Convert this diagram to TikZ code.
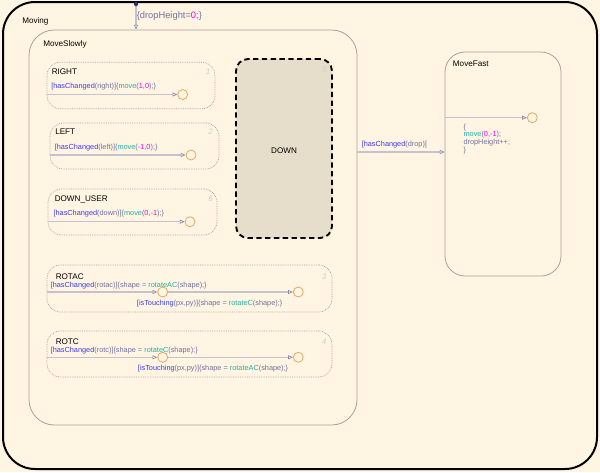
\documentclass[tikz,border=0pt]{standalone}
\usepackage{fontspec}
\setmainfont{Liberation Sans}
\usepackage{tikz}
\usetikzlibrary{arrows.meta}

\definecolor{bgcream}{RGB}{255,245,226}
\definecolor{downfill}{RGB}{230,221,203}
\definecolor{stategray}{RGB}{168,162,154}
\definecolor{dotgray}{RGB}{165,160,155}
\definecolor{transgray}{RGB}{198,193,206}
\definecolor{tipgray}{RGB}{140,136,170}
\definecolor{junorange}{RGB}{232,168,96}
\definecolor{evtblue}{RGB}{58,58,240}
\definecolor{argpurple}{RGB}{112,112,160}
\definecolor{fnteal}{RGB}{32,176,160}
\definecolor{nummag}{RGB}{240,0,240}
\definecolor{numgray}{RGB}{208,208,208}
\definecolor{initblue}{RGB}{48,48,122}

\newcommand{\evt}[1]{\textcolor{evtblue}{#1}}
\newcommand{\fn}[1]{\textcolor{fnteal}{#1}}
\newcommand{\nm}[1]{\textcolor{nummag}{#1}}

\tikzset{
  superstate/.style={draw=stategray, line width=0.6pt, inner sep=0pt},
  substate/.style={draw=dotgray, dash pattern={on 0.55pt off 0.75pt}, line width=0.55pt, inner sep=0pt, rounded corners=10pt},
  junction/.style={circle, draw=junorange, line width=0.6pt, minimum size=7.5pt, inner sep=0pt},
  trans/.style={draw=transgray, line width=0.9pt, -{Triangle[open, length=3.6pt, width=3pt, line width=0.5pt, color=tipgray]}},
  statename/.style={anchor=west, inner sep=0pt, font=\fontsize{6.1}{7}\selectfont},
  translabel/.style={anchor=west, inner sep=0pt, text=argpurple, font=\fontsize{5.5}{6}\selectfont},
  stateno/.style={inner sep=0pt, text=numgray, font=\itshape\fontsize{6}{7}\selectfont},
}

\begin{document}
\begin{tikzpicture}[x=0.75pt,y=0.75pt,yscale=-1,xscale=1]
\useasboundingbox (0,0) rectangle (600,472);
\fill[bgcream] (0,0) rectangle (600,472);

%Shape: outer state
\node[draw=black, line width=1.5pt, rounded corners=24pt, minimum width=445.5pt, minimum height=350.25pt, inner sep=0pt] (moving) at (300,235.5) {};
%Shape: super states
\node[superstate, rounded corners=19pt, minimum width=246pt, minimum height=296.25pt] (moveslowly) at (193,227.5) {};
\node[superstate, rounded corners=15pt, minimum width=87pt, minimum height=168pt] (movefast) at (503,164) {};

%Shape: sub states
\node[substate, minimum width=126pt, minimum height=35pt] (right) at (131,85.5) {};
\node[substate, minimum width=126.75pt, minimum height=34.5pt] (left) at (134.5,146) {};
\node[substate, minimum width=126.75pt, minimum height=34.5pt] (downuser) at (132.5,212) {};
\node[substate, minimum width=213.75pt, minimum height=35.25pt] (rotac) at (189.5,288.5) {};
\node[substate, minimum width=213.75pt, minimum height=34.5pt] (rotc) at (189.5,354) {};
\node[draw=black, fill=downfill, line width=1.4pt, dash pattern={on 4pt off 2.6pt}, rounded corners=9pt, minimum width=72pt, minimum height=134.25pt, inner sep=0pt] (down) at (284,148.5) {};

%Junctions
\node[junction] (jright) at (182.7,94.5) {};
\node[junction] (jleft) at (191,155) {};
\node[junction] (jdownuser) at (190,221.7) {};
\node[junction] (jrotac) at (162.7,292) {};
\node[junction] (jrotacend) at (298.3,292) {};
\node[junction] (jrotc) at (162.7,357.3) {};
\node[junction] (jrotcend) at (298.3,357.3) {};
\node[junction] (jfast) at (532.3,117.7) {};

%Default transition
\coordinate (init) at (136,4);
\draw[trans] (init) -- (init |- moveslowly.north);
\fill[initblue] (init) circle (1.6pt);

%Transitions
\draw[trans] (right.west |- jright) -- (jright);
\draw[trans] (left.west |- jleft) -- (jleft);
\draw[trans] (downuser.west |- jdownuser) -- (jdownuser);
\draw[trans] (rotac.west |- jrotac) -- (jrotac);
\draw[trans] (jrotac) -- (jrotacend);
\draw[trans] (rotc.west |- jrotc) -- (jrotc);
\draw[trans] (jrotc) -- (jrotcend);
\draw[trans] (movefast.west |- jfast) -- (jfast);
\coordinate (dropy) at (400,152);
\draw[trans] (moveslowly.east |- dropy) -- (movefast.west |- dropy);

% Text Node
\node[statename] (tmoving) at (22,21) {Moving};
\node[statename] (tmoveslowly) at (43,44) {MoveSlowly};
\node[statename] (tmovefast) at (452.7,63.5) {MoveFast};
\node[statename] (tright) at (51.5,72) {RIGHT};
\node[statename] (tleft) at (55,132) {LEFT};
\node[statename] (tdownuser) at (54.5,199) {DOWN\_USER};
\node[statename] (trotac) at (55.5,276.5) {ROTAC};
\node[statename] (trotc) at (55.5,341.5) {ROTC};
\node[inner sep=0pt, font=\fontsize{6.1}{7}\selectfont] (tdown) at (284,151) {DOWN};

% Text Node
\node[stateno] (nright) at (208,72) {1};
\node[stateno] (nleft) at (210.5,132) {2};
\node[stateno] (ndownuser) at (210.5,199) {6};
\node[stateno] (nrotac) at (324,277) {3};
\node[stateno] (nrotc) at (324,342) {4};
\node[stateno] (ndown) at (324.5,70) {5};

% Text Node
\node[translabel, font=\fontsize{7}{8}\selectfont] (linit) at (136.5,16) {\{dropHeight=\nm{0};\}};
\node[translabel] (lright) at (51,86.5) {\evt{[hasChanged}(right)]\{\fn{move}(\nm{1,0});\}};
\node[translabel] (lleft) at (54.5,147.5) {\evt{[hasChanged}(left)]\{\fn{move}(\nm{-1,0});\}};
\node[translabel] (ldownuser) at (53.3,213.5) {\evt{[hasChanged}(down)]\{\fn{move}(\nm{0,-1});\}};
\node[translabel] (lrotac) at (50.5,286) {\evt{[hasChanged}(rotac)]\{shape = \fn{rotateAC}(shape);\}};
\node[translabel] (lrotacend) at (136.7,303.3) {\evt{[isTouching}(px,py)]\{shape = \fn{rotateC}(shape);\}};
\node[translabel] (lrotc) at (50.5,350.5) {\evt{[hasChanged}(rotc)]\{shape = \fn{rotateC}(shape);\}};
\node[translabel] (lrotcend) at (137.7,368.7) {\evt{[isTouching}(px,py)]\{shape = \fn{rotateAC}(shape);\}};
\node[translabel] (ldrop) at (361.5,145) {\evt{[hasChanged}(drop)]};
\node[translabel, align=left, font=\fontsize{5.5}{5.7}\selectfont] (lfast) at (463.3,138.7) {\{\\\fn{move}(\nm{0,-1});\\dropHeight++;\\\}};

\end{tikzpicture}
\end{document}
